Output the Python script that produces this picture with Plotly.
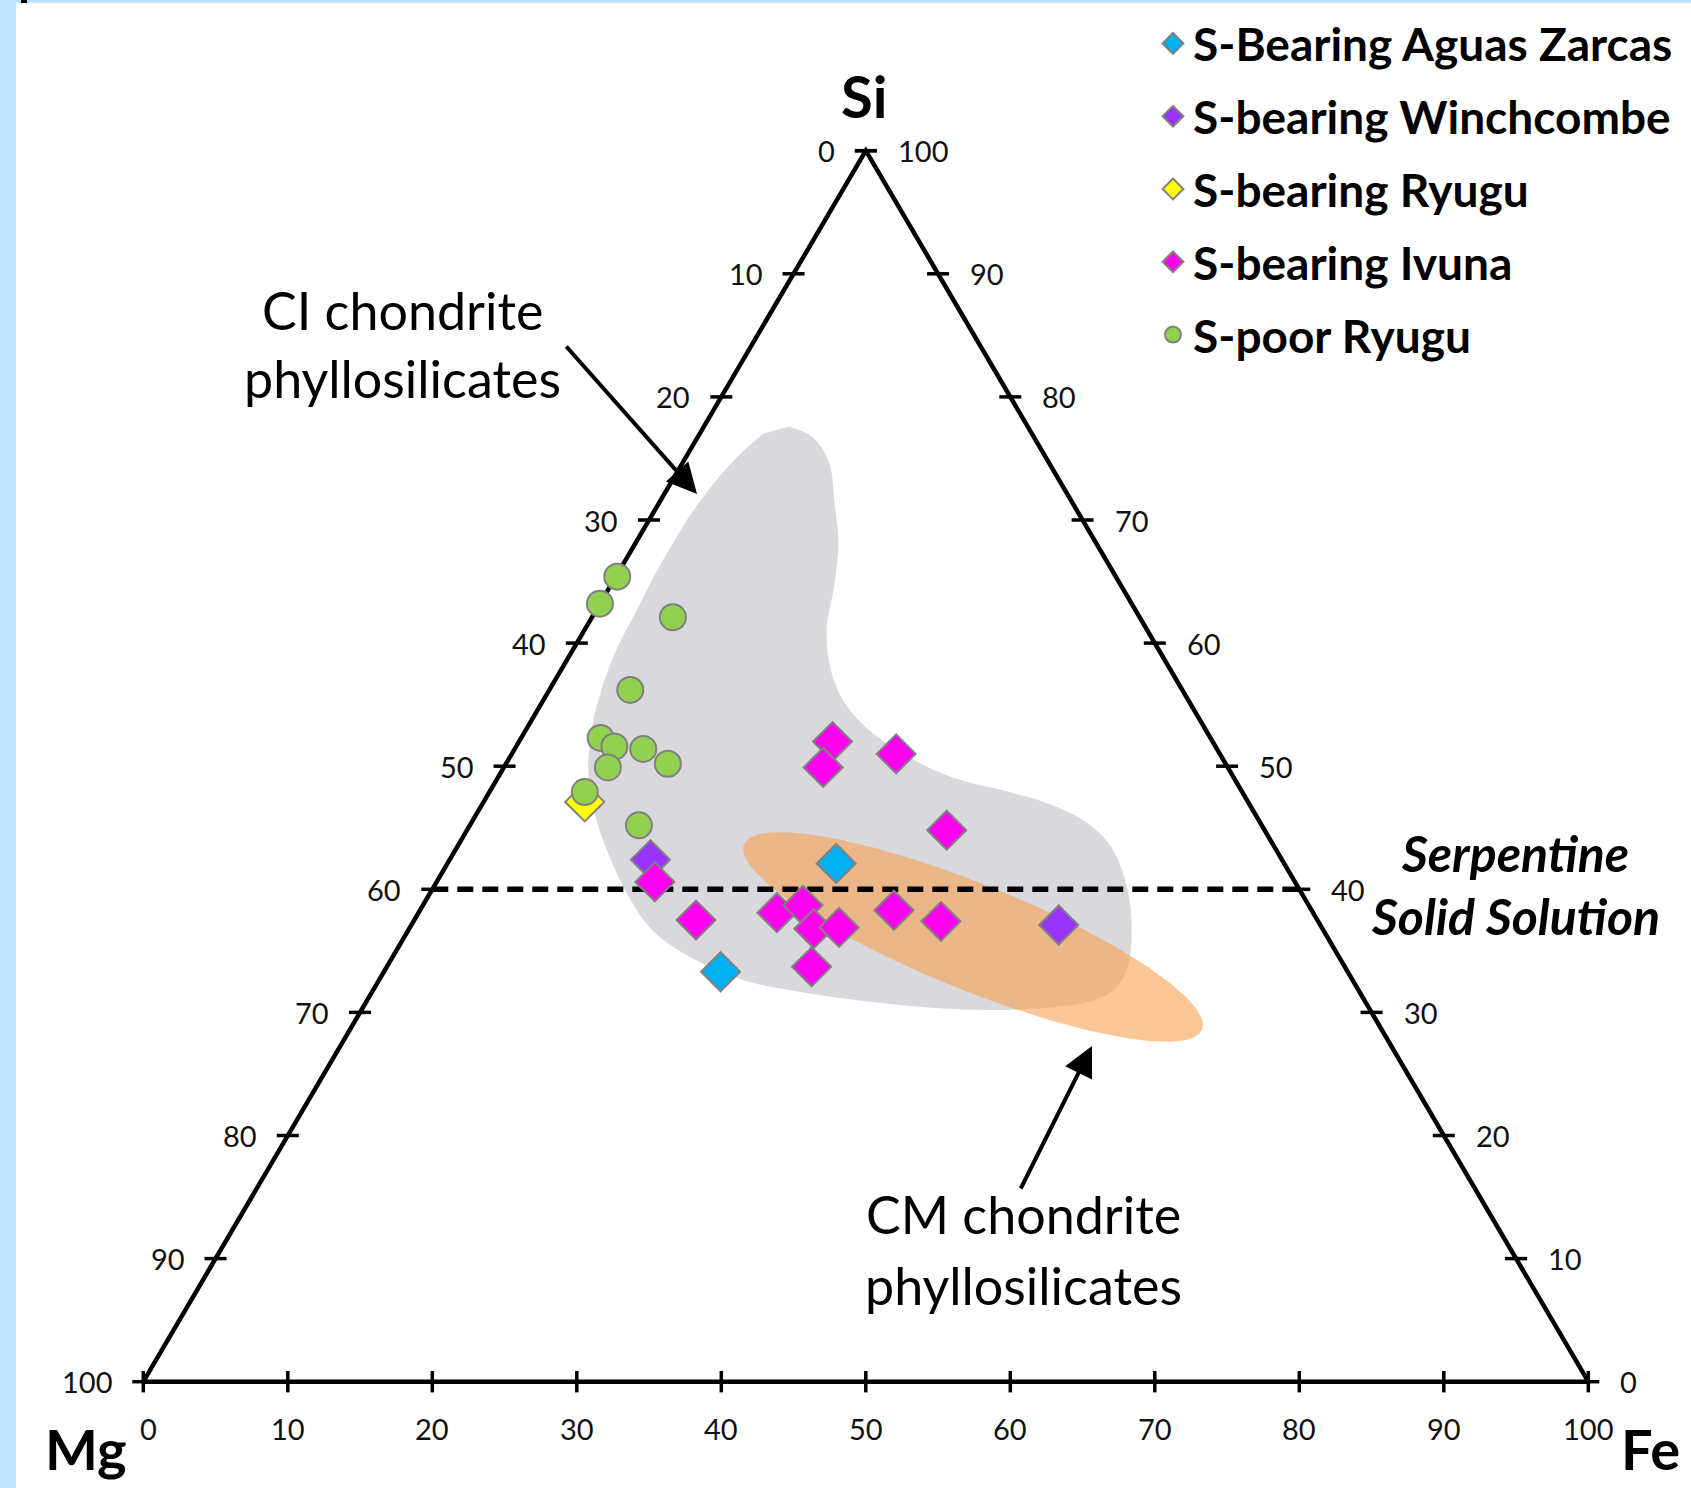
import numpy as np
import plotly.graph_objects as go

# ---------------- data (atomic %, Si + Mg + Fe = 100) ----------------
aguas_si = [42.1, 33.3]
aguas_mg = [31.0, 43.4]
aguas_fe = [26.9, 23.3]

winch_si = [42.4, 37.1]
winch_mg = [43.7, 18.1]
winch_fe = [13.9, 44.8]

ryugu_sb_si = [47.1]
ryugu_sb_mg = [45.9]
ryugu_sb_fe = [7.0]

ivuna_si = [52.0, 49.9, 51.0, 44.8, 40.6, 37.5, 38.1, 38.7, 36.8, 36.9, 38.3, 37.4, 33.7]
ivuna_mg = [26.3, 28.0, 22.4, 22.0, 44.3, 43.0, 37.1, 35.0, 35.2, 33.4, 28.9, 26.1, 36.9]
ivuna_fe = [21.7, 22.1, 26.6, 33.2, 15.1, 19.5, 24.8, 26.3, 28.0, 29.7, 32.8, 36.5, 29.4]

ryugu_sp_si = [65.4, 63.2, 62.1, 56.2, 52.3, 51.6, 51.4, 49.9, 50.2, 47.9, 45.2]
ryugu_sp_mg = [34.5, 36.8, 32.3, 38.2, 42.2, 41.6, 39.7, 42.9, 38.6, 45.5, 43.1]
ryugu_sp_fe = [0.1, 0.0, 5.6, 5.6, 5.5, 6.8, 8.9, 7.2, 11.2, 6.6, 11.7]

# CI chondrite phyllosilicate field outline (Si %, Fe %)
ci_field_si = [77.6, 76.7, 74.7, 71.3, 68.0, 64.6, 61.2, 58.2, 55.5, 53.1, 50.8, 49.1,
               47.9, 46.9, 45.4, 43.4, 40.3, 37.0, 33.6, 31.9, 30.9, 30.4, 30.2, 30.4,
               30.9, 31.6, 32.6, 34.3, 36.6, 39.3, 42.7, 46.1, 49.4, 52.8, 56.2, 59.5,
               62.9, 66.6, 71.0, 74.7, 77.0]
ci_field_fe = [5.9, 8.0, 10.1, 12.2, 14.1, 15.5, 16.7, 18.4, 20.6, 23.5, 27.5, 31.4,
               36.0, 39.3, 42.6, 45.3, 47.9, 49.9, 51.3, 51.3, 50.1, 47.5, 43.4, 39.1,
               34.6, 30.0, 25.3, 21.0, 17.0, 14.0, 10.9, 8.2, 6.1, 4.6, 3.6, 3.0,
               2.8, 2.6, 2.7, 3.4, 4.4]

axis_ticks = [0, 10, 20, 30, 40, 50, 60, 70, 80, 90, 100]
serpentine_si = 40

FONT = "Lato"
# pixel geometry of the plane (x: Fe + Si/2 ; y: Si)
X0PX, Y0PX, SX, SY = 143.3, 1381.7, 14.45, 12.31


def plane(si, mg, fe):
    si = np.asarray(si, float); mg = np.asarray(mg, float); fe = np.asarray(fe, float)
    tot = si + mg + fe
    s = si / tot * 100
    f = fe / tot * 100
    return f + s / 2, s


def px2u(px, py):
    return (px - X0PX) / SX, (Y0PX - py) / SY


fig = go.Figure()

# CI field
cx = [f + s / 2 for s, f in zip(ci_field_si, ci_field_fe)]
fig.add_trace(go.Scatter(x=cx, y=ci_field_si, mode="lines", line=dict(shape="spline", width=0, color="#d9d9dd"),
                         fill="toself", fillcolor="#d9d9dd", hoverinfo="skip", showlegend=False))

# CM field (ellipse outline in pixel space)
t = np.linspace(0, 2 * np.pi, 240)
ecx, ecy, ea, eb, eth = 973.0, 937.0, 247.0, 53.0, np.deg2rad(22.0)
epx = ecx + ea * np.cos(t) * np.cos(eth) - eb * np.sin(t) * np.sin(eth)
epy = ecy + ea * np.cos(t) * np.sin(eth) + eb * np.sin(t) * np.cos(eth)
ex, ey = px2u(epx, epy)
fig.add_trace(go.Scatter(x=ex, y=ey, mode="lines", line=dict(width=0, color="rgba(247,160,80,0.6)"),
                         fill="toself", fillcolor="rgba(247,160,80,0.6)", hoverinfo="skip", showlegend=False))

# serpentine solid solution line
lx, ly = plane([serpentine_si, serpentine_si], [100 - serpentine_si, 0], [0, 100 - serpentine_si])
fig.add_trace(go.Scatter(x=lx, y=ly, mode="lines", line=dict(color="black", width=5.5, dash="16px,9px"),
                         hoverinfo="skip", showlegend=False))

# triangle frame
tx, ty = plane([0, 100, 0, 0], [100, 0, 0, 100], [0, 0, 100, 0])
fig.add_trace(go.Scatter(x=tx, y=ty, mode="lines", line=dict(color="black", width=4.5),
                         hoverinfo="skip", showlegend=False))

# ticks
hx = 11 / SX
vy = 10.7 / SY
tkx, tky = [], []
annotations = []
lab_font = dict(family=FONT, size=29, color="#111")
for v in axis_ticks:
    # left edge (label v = 100 - Si)
    xl, yl = plane(100 - v, v, 0)
    tkx += [float(xl) - hx, float(xl) + hx, None]; tky += [float(yl), float(yl), None]
    annotations.append(dict(x=float(xl), y=float(yl), text=str(v), showarrow=False, xanchor="right",
                            yanchor="middle", xshift=-29, font=lab_font))
    # right edge (label v = Si)
    xr, yr = plane(v, 0, 100 - v)
    tkx += [float(xr) - hx, float(xr) + hx, None]; tky += [float(yr), float(yr), None]
    annotations.append(dict(x=float(xr), y=float(yr), text=str(v), showarrow=False, xanchor="left",
                            yanchor="middle", xshift=30, font=lab_font))
    # bottom edge (label v = Fe)
    xb, yb = plane(0, 100 - v, v)
    tkx += [float(xb), float(xb), None]; tky += [float(yb) - vy, float(yb) + vy, None]
    annotations.append(dict(x=float(xb), y=float(yb), text=str(v), showarrow=False, xanchor="center",
                            yanchor="middle", yshift=-47, xshift=5 if v == 0 else 0, font=lab_font))
fig.add_trace(go.Scatter(x=tkx, y=tky, mode="lines", line=dict(color="black", width=3.5),
                         hoverinfo="skip", showlegend=False))

# data series
edge = dict(color="#808080", width=2)
series = [
    ("S-Bearing Aguas Zarcas", aguas_si, aguas_mg, aguas_fe, "diamond", "#00b0f0", 30),
    ("S-bearing Winchcombe", winch_si, winch_mg, winch_fe, "diamond", "#9933ff", 30),
    ("S-bearing Ryugu", ryugu_sb_si, ryugu_sb_mg, ryugu_sb_fe, "diamond", "#ffff00", 30),
    ("S-bearing Ivuna", ivuna_si, ivuna_mg, ivuna_fe, "diamond", "#ff00ee", 30),
    ("S-poor Ryugu", ryugu_sp_si, ryugu_sp_mg, ryugu_sp_fe, "circle", "#92d050", 26),
]
for name, si, mg, fe, sym, col, sz in series:
    x, y = plane(si, mg, fe)
    fig.add_trace(go.Scatter(
        x=x, y=y, mode="markers", name=name, legendgroup=name,
        marker=dict(symbol=sym, color=col, size=sz, line=edge),
        customdata=np.stack([si, mg, fe], axis=1),
        hovertemplate="Si %{customdata[0]}<br>Mg %{customdata[1]}<br>Fe %{customdata[2]}<extra>" + name + "</extra>",
        cliponaxis=False))


def txt(text, px, py, size, bold=False, italic=False):
    x, y = px2u(px, py)
    return dict(x=x, y=y, text=text, showarrow=False, xanchor="center", yanchor="middle",
                font=dict(family=FONT, size=size, color="black",
                          weight="bold" if bold else "normal", style="italic" if italic else "normal"))


annotations += [
    txt("Si", 864, 95, 58, bold=True),
    txt("Mg", 86, 1448, 56, bold=True),
    txt("Fe", 1650, 1448, 56, bold=True),
    txt("CI chondrite", 402, 310, 52),
    txt("phyllosilicates", 402, 378, 52),
    txt("CM chondrite", 1023, 1214, 52),
    txt("phyllosilicates", 1023, 1285, 52),
    txt("Serpentine", 1515, 853, 50, bold=True, italic=True),
    txt("Solid Solution", 1515, 916, 50, bold=True, italic=True),
]

# arrows
for (tx0, ty0), (hx0, hy0) in [((565, 345), (697, 494)), ((1020, 1190), (1092, 1046))]:
    ax_, ay_ = px2u(tx0, ty0)
    hx_, hy_ = px2u(hx0, hy0)
    annotations.append(dict(x=hx_, y=hy_, ax=ax_, ay=ay_, xref="x", yref="y", axref="x", ayref="y",
                            text="", showarrow=True, arrowhead=2, arrowsize=1.5, arrowwidth=4,
                            arrowcolor="black"))

PLOT_L, PLOT_T = 16, 3
PW, PH = 1691 - PLOT_L, 1488 - PLOT_T
xr0 = (PLOT_L - X0PX) / SX
yr1 = (Y0PX - PLOT_T) / SY

fig.update_layout(
    width=1691, height=1488,
    margin=dict(l=PLOT_L, r=0, t=PLOT_T, b=0, pad=0),
    paper_bgcolor="#bde5fb", plot_bgcolor="white",
    xaxis=dict(range=[xr0, xr0 + PW / SX], visible=False, fixedrange=True),
    yaxis=dict(range=[yr1 - PH / SY, yr1], visible=False, fixedrange=True),
    annotations=annotations,
    showlegend=True,
    legend=dict(x=(1153 - PLOT_L) / PW, y=1 - 4 / PH, xanchor="left", yanchor="top",
                font=dict(family=FONT, size=46, color="black", weight="bold"),
                bgcolor="rgba(0,0,0,0)", traceorder="grouped", tracegroupgap=10,
                itemsizing="trace"),
    shapes=[dict(type="rect", xref="paper", yref="paper", x0=5 / PW, x1=11 / PW, y0=1, y1=1 + 3 / PH,
                 fillcolor="black", line=dict(width=0))],
    hovermode="closest",
)

fig.write_html("out.html", config={"displayModeBar": False},
               post_script="document.body.style.margin='0px';document.body.style.overflow='hidden';")
